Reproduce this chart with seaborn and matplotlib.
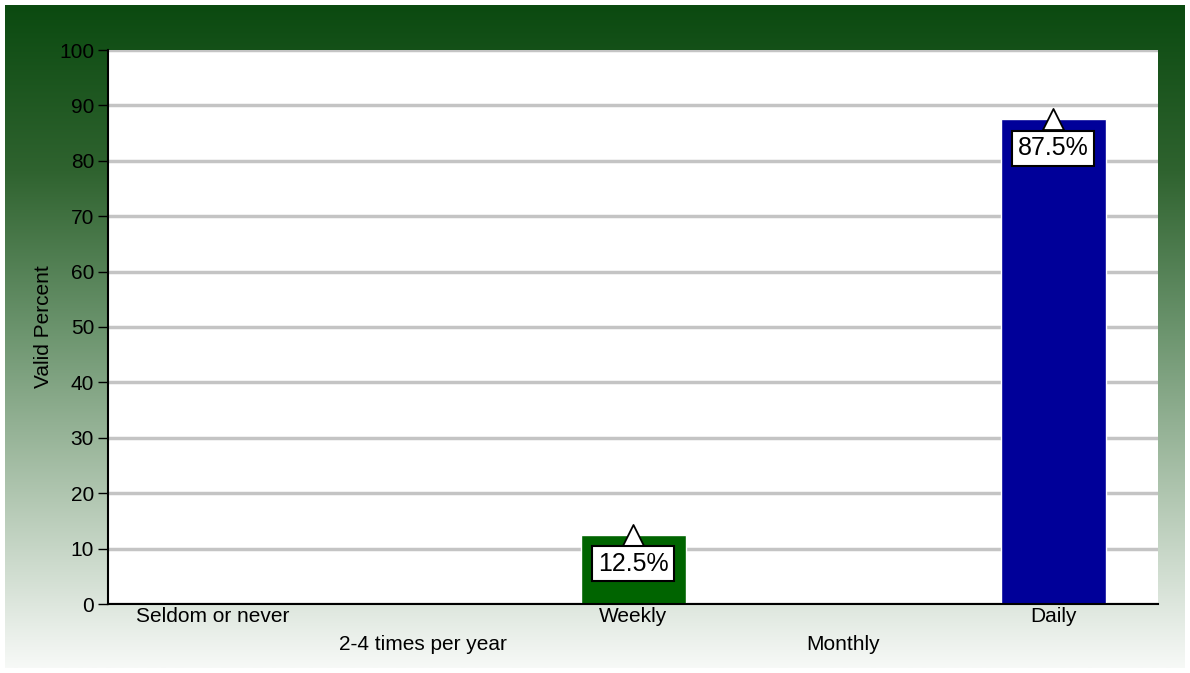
import matplotlib
matplotlib.use("Agg")
import matplotlib.pyplot as plt
import matplotlib.colors as mcolors
import seaborn as sns
import numpy as np
import pandas as pd

categories = ["Seldom or never", "2-4 times per year", "Weekly", "Monthly", "Daily"]
valid_percent = [0.0, 0.0, 12.5, 0.0, 87.5]
bar_colors = ["#006400", "#006400", "#006400", "#006400", "#000099"]
y_ticks = [0, 10, 20, 30, 40, 50, 60, 70, 80, 90, 100]

df = pd.DataFrame({"category": categories, "pct": valid_percent})

sns.set_theme(style="white")
plt.rcParams["font.family"] = ["Liberation Sans", "DejaVu Sans"]

W, H = 1190, 673
fig = plt.figure(figsize=(W / 100, H / 100), dpi=100)
fig.patch.set_facecolor("white")

# gradient panel behind everything
bg = fig.add_axes([5 / W, 5 / H, 1 - 10 / W, 1 - 10 / H])
bg.set_axis_off()
cmap = mcolors.LinearSegmentedColormap.from_list(
    "g", ["#0b4a10", "#2f632f", "#6e9670", "#b3c8b3", "#f7f9f7"])
grad = np.linspace(0, 1, 256).reshape(-1, 1)
bg.imshow(grad, aspect="auto", cmap=cmap, extent=[0, 1, 0, 1], origin="upper")
bg.set_zorder(0)

left, right, top, bottom = 108, 1158, 50, 604
ax = fig.add_axes([left / W, 1 - bottom / H, (right - left) / W, (bottom - top) / H])
ax.set_zorder(1)
ax.set_facecolor("white")

sns.barplot(data=df, x="category", y="pct", hue="category", palette=bar_colors,
            legend=False, width=0.5, saturation=1, ax=ax, zorder=3)

ax.set_ylim(0, 100)
ax.set_xlim(-0.5, len(categories) - 0.5)
ax.set_yticks(y_ticks)
ax.yaxis.grid(True, color="#c4c4c4", linewidth=2.5, zorder=0)
ax.set_axisbelow(True)
for s in ["top", "right"]:
    ax.spines[s].set_visible(False)
ax.spines["left"].set_color("black")
ax.spines["left"].set_linewidth(1.5)
ax.spines["bottom"].set_color("black")
ax.spines["bottom"].set_linewidth(1.5)
ax.spines["bottom"].set_zorder(5)

ax.tick_params(axis="y", left=True, length=7, width=1, color="black",
               labelsize=15, labelcolor="black", pad=3)
ax.tick_params(axis="x", bottom=False, length=0, labelsize=15,
               labelcolor="black", pad=2)
ax.set_xticks(range(len(categories)))
ax.set_xticklabels([c if i % 2 == 0 else "\n" + c for i, c in enumerate(categories)],
                   linespacing=1.6)
ax.set_xlabel("")
ax.set_ylabel("Valid Percent", fontsize=15, color="black", labelpad=4)

for i, v in enumerate(valid_percent):
    if v <= 0:
        continue
    ax.scatter([i], [v], marker="^", s=230, facecolor="white", edgecolor="black",
               linewidth=1.3, zorder=6, clip_on=False)
    ax.annotate(f"{v}%", xy=(i, v), xytext=(0, -21), textcoords="offset points",
                ha="center", va="center", fontsize=18, color="black", zorder=7,
                bbox=dict(boxstyle="square,pad=0.22", facecolor="white",
                          edgecolor="black", linewidth=1.5))

fig.savefig("out.png", dpi=100)
